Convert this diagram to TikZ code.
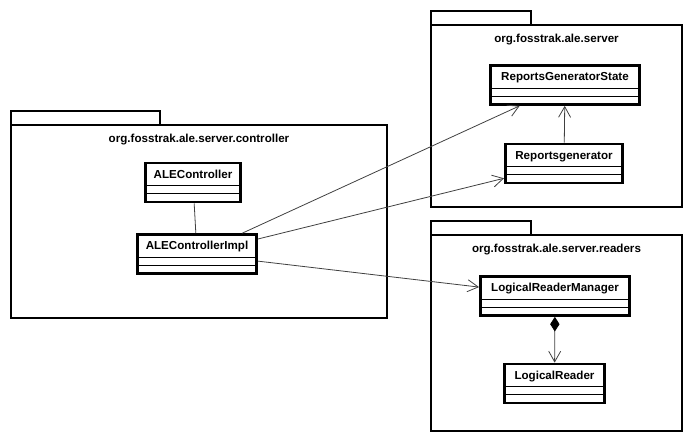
\documentclass[tikz,border=0pt]{standalone}
\usepackage{fontspec}
\setmainfont{Liberation Sans}
\usetikzlibrary{arrows.meta,calc}
\tikzstyle{pkg line}=[draw=black, line width=1.5pt]
\tikzstyle{package}=[pkg line, shape=rectangle, outer sep=0pt, inner sep=0pt, font=\bfseries\fontsize{8.7}{10}\selectfont, text height=12.75pt]
\tikzstyle{class}=[draw=black, line width=2pt, shape=rectangle, inner sep=0pt, font=\bfseries\fontsize{8.7}{10}\selectfont, text height=11.25pt, text depth=18pt]
\tikzstyle{sep line}=[draw=black, line width=0.75pt]
\tikzstyle{plain edge}=[-, draw=black!75, line width=0.6pt]
\tikzstyle{dep edge}=[-{Straight Barb[length=8pt, width=9pt]}, draw=black!75, line width=0.6pt]
\tikzstyle{comp edge}=[{Diamond[length=11pt, width=7pt, color=black]}-{Straight Barb[length=8pt, width=9pt]}, draw=black!75, line width=0.6pt]
% the two empty compartments of a class box
\newcommand{\compartments}[1]{
	\draw [style=sep line] ($(#1.south west)+(0,-17.5)$) -- ($(#1.south east)+(0,-17.5)$);
	\draw [style=sep line] ($(#1.south west)+(0,-9.5)$) -- ($(#1.south east)+(0,-9.5)$);
}

\begin{document}
\begin{tikzpicture}[x=0.75pt, y=-0.75pt]
	\useasboundingbox (0,0) rectangle (693,443);
	% packages
	\node [style=package, minimum width=282pt, text depth=132pt] (ctrlpkg) at (199, 221.5) {org.fosstrak.ale.server.controller};
	\node [style=package, minimum width=188.25pt, text depth=123.75pt] (serverpkg) at (556.5, 116) {org.fosstrak.ale.server};
	\node [style=package, minimum width=188.25pt, text depth=134.25pt] (readerspkg) at (556.5, 333) {org.fosstrak.ale.server.readers};
	\draw [style=pkg line] (ctrlpkg.north west) rectangle ++(149,-14);
	\draw [style=pkg line] (serverpkg.north west) rectangle ++(100,-14);
	\draw [style=pkg line] (readerspkg.north west) rectangle ++(100,-14);
	% classes
	\node [style=class, minimum width=71.5pt] (ctrl) at (193, 182.5) {ALEController};
	\node [style=class, minimum width=89.5pt] (impl) at (197, 254) {ALEControllerImpl};
	\node [style=class, minimum width=112pt] (state) at (565, 85) {ReportsGeneratorState};
	\node [style=class, minimum width=88pt] (gen) at (564, 163.5) {Reportsgenerator};
	\node [style=class, minimum width=112pt] (manager) at (555, 296) {LogicalReaderManager};
	\node [style=class, minimum width=75.2pt] (reader) at (554.5, 383.5) {LogicalReader};
	\compartments{ctrl}
	\compartments{impl}
	\compartments{state}
	\compartments{gen}
	\compartments{manager}
	\compartments{reader}
	% relations
	\draw [style=plain edge] (ctrl) to (impl);
	\draw [style=dep edge] (impl) to (state);
	\draw [style=dep edge] (impl) to (gen);
	\draw [style=dep edge] (impl) to (manager);
	\draw [style=dep edge] (gen) to (state);
	\draw [style=comp edge] (manager) to (reader);
\end{tikzpicture}
\end{document}
